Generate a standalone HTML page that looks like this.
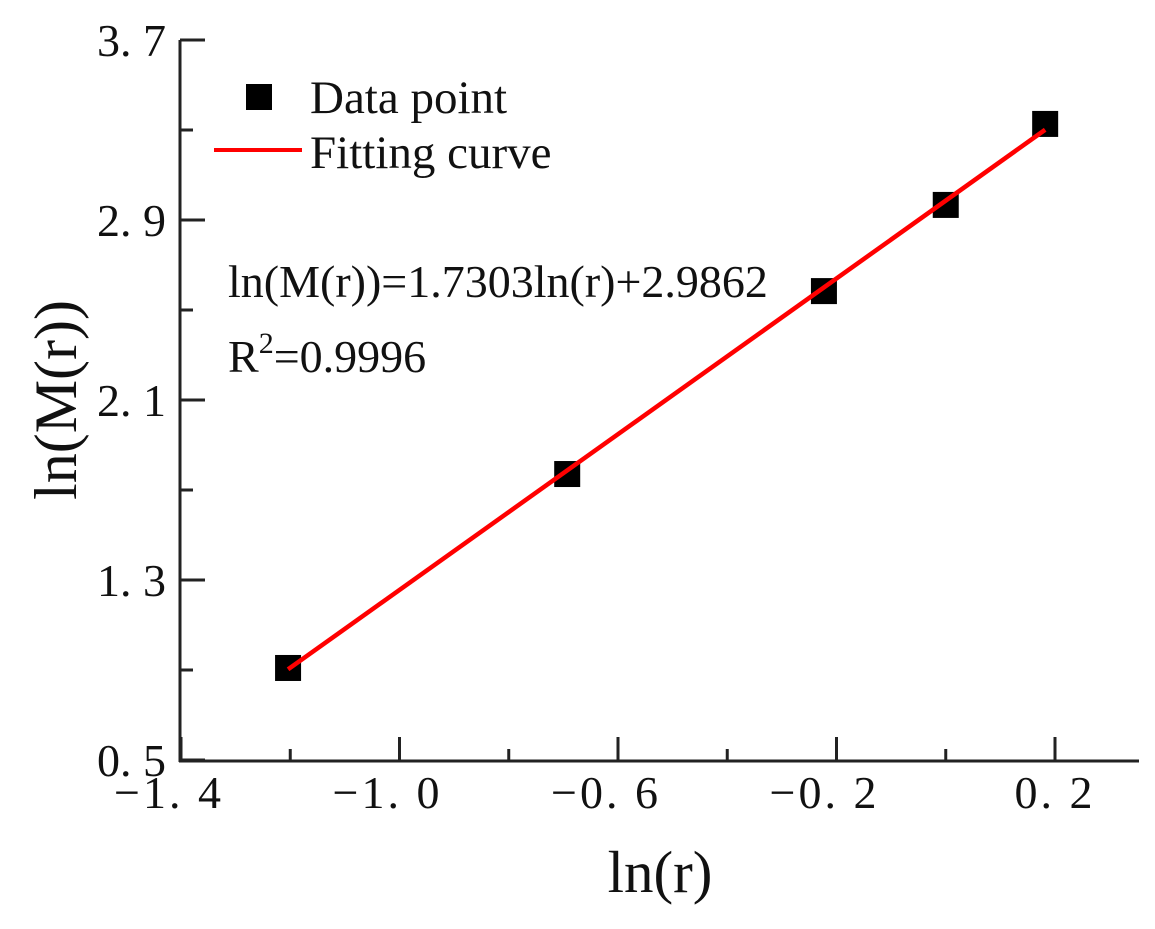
<!DOCTYPE html>
<html><head><meta charset="utf-8"><style>
html,body{margin:0;padding:0;background:#fff;}
svg text{font-family:"Liberation Serif","Noto Serif CJK SC",serif;fill:#111;}
</style></head><body>
<svg width="1155" height="924" xmlns="http://www.w3.org/2000/svg">
<g id="axes"></g>
<g id="marks"></g>
<g>
  <rect x="246" y="84" width="26" height="26" fill="#000"/>
  <text x="310" y="113" font-size="47">Data point</text>
  <line x1="214" y1="150" x2="302" y2="150" stroke="#f00" stroke-width="4"/>
  <text x="310" y="168" font-size="47">Fitting curve</text>
</g>
<text x="228" y="297" font-size="46">ln(M(r))=1.7303ln(r)+2.9862</text>
<text x="228" y="372" font-size="46">R<tspan dy="-19" font-size="30">2</tspan><tspan dy="19">=0.9996</tspan></text>
<text x="660" y="892" font-size="59" text-anchor="middle">ln(r)</text>
<text transform="translate(76,400) rotate(-90)" font-size="60" text-anchor="middle">ln(M(r))</text>
</svg>
<script>
const xTicks=[-1.4,-1.0,-0.6,-0.2,0.2];
const xTickLabels=["-1. 4","-1. 0","-0. 6","-0. 2","0. 2"];
const yTicks=[0.5,1.3,2.1,2.9,3.7];
const yTickLabels=["0. 5","1. 3","2. 1","2. 9","3. 7"];
const xData=[-1.204,-0.693,-0.223,0.0,0.182];
const yData=[0.909,1.771,2.584,2.967,3.327];
const slope=1.7303, intercept=2.9862;
const NS="http://www.w3.org/2000/svg";
const X=v=>181+(v+1.4)*546.25;
const Y=v=>760-(v-0.5)*225;
function mk(tag,attrs,parent){const e=document.createElementNS(NS,tag);for(const k in attrs)e.setAttribute(k,attrs[k]);parent.appendChild(e);return e;}
const ax=document.getElementById('axes'), mg=document.getElementById('marks');
let l=mk('line',{x1:180,y1:40,x2:180,y2:762,stroke:'#222','stroke-width':3},ax);


l=mk('line',{x1:179,y1:761,x2:1139,y2:761,stroke:'#222','stroke-width':3},ax);


xTicks.forEach((v,i)=>{
  const t=mk('line',{x1:X(v),y1:761,x2:X(v),y2:737,stroke:'#222','stroke-width':3},ax);
  
  
  const m=mk('line',{x1:X(v+0.2),y1:761,x2:X(v+0.2),y2:749,stroke:'#222','stroke-width':3},ax);
  
  
  const tx=mk('text',{x:X(v)-(v<0?12:0),y:808,'font-size':46,'text-anchor':'middle','letter-spacing':3},ax);
  tx.textContent=xTickLabels[i].replace('-','\u2212');
  
  
});
yTicks.forEach((v,i)=>{
  const t=mk('line',{x1:180,y1:Y(v),x2:205,y2:Y(v),stroke:'#222','stroke-width':3},ax);
  
  
  if(i<yTicks.length-1){
    const m=mk('line',{x1:180,y1:Y(v+0.4),x2:193,y2:Y(v+0.4),stroke:'#222','stroke-width':3},ax);
    
    
  }
  const tx=mk('text',{x:166,y:Y(v)+16,'font-size':46,'text-anchor':'end','letter-spacing':0},ax);
  tx.textContent=yTickLabels[i];
  
  
});
const x0=xData[0], x1=xData[xData.length-1];
const fl=mk('line',{x1:X(x0),y1:Y(slope*x0+intercept),x2:X(x1),y2:Y(slope*x1+intercept),stroke:'#f00','stroke-width':4.5},mg);


xData.forEach((v,i)=>{
  const r=mk('rect',{x:X(v)-13,y:Y(yData[i])-13,width:26,height:26,fill:'#000'},mg);
  
  
});
mg.appendChild(fl);
</script>
</body></html>
